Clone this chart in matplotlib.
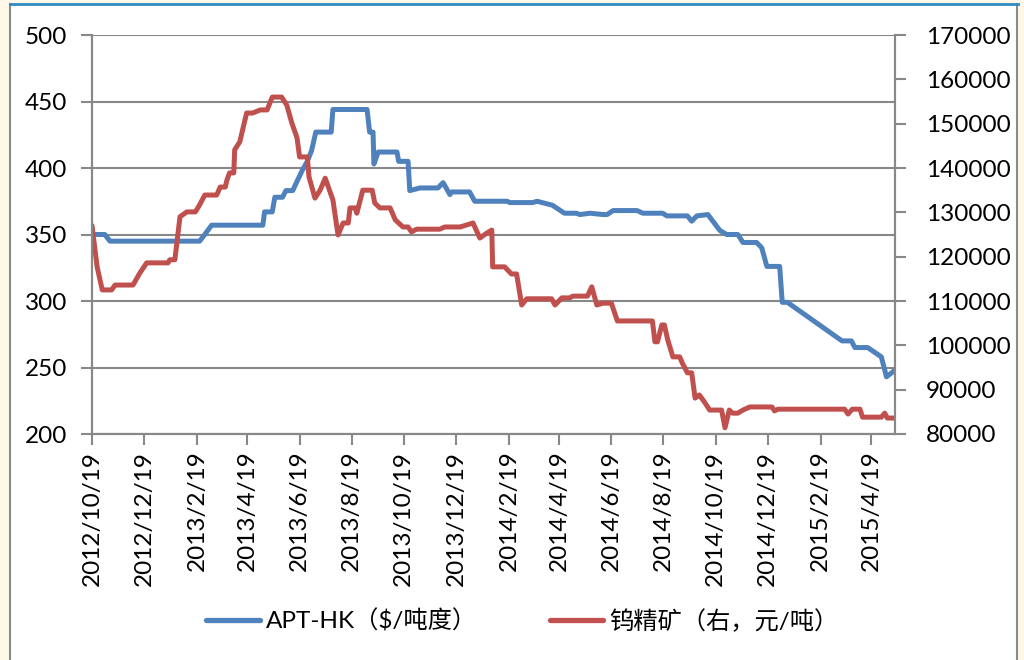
import pandas as pd
import matplotlib
matplotlib.use("Agg")
import matplotlib.pyplot as plt
from matplotlib.patches import Rectangle
from matplotlib.lines import Line2D

plt.rcParams['font.family'] = ['Lato', 'Noto Sans CJK SC', 'DejaVu Sans']

# APT-HK price ($/ton-degree), left axis
apt_dates = ["2012-10-19", "2012-11-03", "2012-11-09", "2013-02-22", "2013-02-28", "2013-03-08",
             "2013-05-07", "2013-05-09", "2013-05-18", "2013-05-21", "2013-05-30", "2013-06-03",
             "2013-06-11", "2013-06-16", "2013-06-22", "2013-06-28", "2013-07-03", "2013-07-08",
             "2013-07-26", "2013-07-28", "2013-09-06", "2013-09-09", "2013-09-13", "2013-09-14",
             "2013-09-19", "2013-10-11", "2013-10-13", "2013-10-24", "2013-10-26", "2013-11-07",
             "2013-11-28", "2013-12-04", "2013-12-12", "2013-12-14", "2014-01-04", "2014-01-10",
             "2014-02-17", "2014-02-20", "2014-03-19", "2014-03-24", "2014-04-11", "2014-04-25",
             "2014-05-09", "2014-05-13", "2014-05-25", "2014-06-09", "2014-06-14", "2014-06-21",
             "2014-07-19", "2014-07-26", "2014-08-18", "2014-08-23", "2014-09-16", "2014-09-21",
             "2014-09-27", "2014-10-10", "2014-10-24", "2014-11-01", "2014-11-14", "2014-11-20",
             "2014-12-06", "2014-12-12", "2014-12-18", "2015-01-02", "2015-01-05", "2015-01-11",
             "2015-03-16", "2015-03-27", "2015-03-31", "2015-04-15", "2015-05-01", "2015-05-07",
             "2015-05-17"]
apt_values = [350, 350, 345, 345, 350, 357,
              357, 367, 367, 378, 378, 383,
              383, 390, 398, 405, 413, 427,
              427, 444, 444, 427, 427, 403,
              412, 412, 405, 405, 383, 385,
              385, 389, 380, 382, 382, 375,
              375, 374, 374, 375, 372, 366,
              366, 365, 366, 365, 365, 368,
              368, 366, 366, 364, 364, 360,
              364, 365, 353, 350, 350, 344,
              344, 340, 326, 326, 299, 299,
              270, 270, 265, 265, 258, 243,
              248]

# tungsten concentrate (right axis, yuan/ton)
ore_dates = ["2012-10-19", "2012-10-25", "2012-10-31", "2012-11-11", "2012-11-15", "2012-12-06",
             "2012-12-14", "2012-12-22", "2013-01-16", "2013-01-18", "2013-01-24", "2013-01-30",
             "2013-02-07", "2013-02-17", "2013-02-22", "2013-02-28", "2013-03-14", "2013-03-18",
             "2013-03-24", "2013-03-26", "2013-03-29", "2013-04-03", "2013-04-04", "2013-04-10",
             "2013-04-18", "2013-04-25", "2013-05-04", "2013-05-12", "2013-05-18", "2013-05-29",
             "2013-06-04", "2013-06-10", "2013-06-16", "2013-06-19", "2013-06-28", "2013-06-30",
             "2013-07-07", "2013-07-13", "2013-07-19", "2013-07-28", "2013-08-03", "2013-08-09",
             "2013-08-15", "2013-08-17", "2013-08-23", "2013-08-25", "2013-09-01", "2013-09-12",
             "2013-09-15", "2013-09-21", "2013-10-03", "2013-10-09", "2013-10-18", "2013-10-24",
             "2013-10-28", "2013-11-03", "2013-11-30", "2013-12-06", "2013-12-24", "2014-01-08",
             "2014-01-16", "2014-01-24", "2014-01-30", "2014-01-31", "2014-02-14", "2014-02-22",
             "2014-02-28", "2014-03-06", "2014-03-12", "2014-04-10", "2014-04-14", "2014-04-22",
             "2014-05-01", "2014-05-05", "2014-05-22", "2014-05-27", "2014-06-02", "2014-06-09",
             "2014-06-19", "2014-06-26", "2014-08-06", "2014-08-09", "2014-08-12", "2014-08-17",
             "2014-08-20", "2014-08-24", "2014-08-30", "2014-09-07", "2014-09-10", "2014-09-16",
             "2014-09-21", "2014-09-25", "2014-09-30", "2014-10-06", "2014-10-12", "2014-10-26",
             "2014-10-30", "2014-11-04", "2014-11-08", "2014-11-14", "2014-11-20", "2014-11-28",
             "2014-12-24", "2014-12-27", "2014-12-31", "2015-03-19", "2015-03-23", "2015-03-28",
             "2015-04-06", "2015-04-09", "2015-05-01", "2015-05-05", "2015-05-08", "2015-05-17"]
ore_values = [127000, 117700, 112500, 112500, 113600, 113600,
              116300, 118600, 118600, 119300, 119300, 129000,
              130100, 130100, 131700, 133900, 133900, 135700,
              135700, 137300, 138900, 138900, 144100, 145900,
              152400, 152400, 153100, 153100, 156000, 156000,
              154200, 150100, 146800, 142500, 142500, 138000,
              133200, 135000, 137700, 132800, 124900, 127600,
              127600, 131000, 131000, 129800, 135000, 135000,
              132100, 131000, 131000, 128300, 126700, 126700,
              125600, 126200, 126200, 126700, 126700, 127600,
              124200, 125300, 126000, 117700, 117700, 116100,
              116100, 109100, 110500, 110500, 109100, 110700,
              110700, 111100, 111100, 113200, 109100, 109500,
              109500, 105500, 105500, 100800, 100800, 104600,
              104600, 101200, 97400, 97400, 96000, 93800,
              93800, 88100, 88800, 87200, 85400, 85400,
              81400, 85400, 84700, 84700, 85400, 86100,
              86100, 85200, 85600, 85600, 84500, 85600,
              85600, 83800, 83800, 84700, 83600, 83600]

tick_dates = ["2012-10-19", "2012-12-19", "2013-02-19", "2013-04-19", "2013-06-19", "2013-08-19",
              "2013-10-19", "2013-12-19", "2014-02-19", "2014-04-19", "2014-06-19", "2014-08-19",
              "2014-10-19", "2014-12-19", "2015-02-19", "2015-04-19"]
left_ticks = [200, 250, 300, 350, 400, 450, 500]
right_ticks = [80000, 90000, 100000, 110000, 120000, 130000, 140000, 150000, 160000, 170000]

blue = "#4F81BD"
red = "#C0504D"
grey = "#888888"

fig = plt.figure(figsize=(10.24, 6.6), dpi=100)
fig.patch.set_facecolor("#FFF8E8")
# white panel with grey sides and a blue top edge
fig.patches.append(Rectangle((10 / 1024, 0), 1007 / 1024, 1 - 4 / 660, transform=fig.transFigure,
                             facecolor="white", edgecolor="none", zorder=-10))
fig.lines.append(Line2D([10 / 1024, 10 / 1024], [0, 1 - 4 / 660], transform=fig.transFigure, color="#8a8a8a", lw=1.5))
fig.lines.append(Line2D([1017 / 1024, 1017 / 1024], [0, 1 - 4 / 660], transform=fig.transFigure, color="#8a8a8a", lw=1.5))
fig.lines.append(Line2D([10 / 1024, 1018 / 1024], [1 - 4 / 660, 1 - 4 / 660], transform=fig.transFigure, color="#2E8BC0", lw=2))

ax = fig.add_axes([92 / 1024, 1 - 434 / 660, (895 - 92) / 1024, (434 - 35) / 660])
ax.set_facecolor("none")
ax2 = ax.twinx()

apt_x = pd.to_datetime(apt_dates)
ore_x = pd.to_datetime(ore_dates)
ax.plot(apt_x, apt_values, color=blue, lw=3.6, solid_joinstyle="round", solid_capstyle="round")
ax2.plot(ore_x, ore_values, color=red, lw=3.6, solid_joinstyle="round", solid_capstyle="round")

ax.set_xlim(pd.Timestamp("2012-10-19"), pd.Timestamp("2015-05-17"))
ax.set_ylim(200, 500)
ax2.set_ylim(80000, 170000)

ax.set_yticks(left_ticks)
ax2.set_yticks(right_ticks)
ticks = pd.to_datetime(tick_dates)
ax.set_xticks(ticks)
ax.set_xticklabels([f"{d.year}/{d.month}/{d.day}" for d in ticks], rotation=90)

ax.grid(axis="y", color=grey, lw=1.5)
ax.set_axisbelow(True)

for a in (ax, ax2):
    for s in a.spines.values():
        s.set_color(grey)
        s.set_linewidth(1.5)
    a.spines["top"].set_visible(False)
    a.tick_params(colors=grey, labelcolor="black", labelsize=17.5, length=8, width=1.5)
ax.tick_params(axis="y", pad=10)
ax.tick_params(axis="x", pad=4)
ax2.tick_params(axis="y", pad=14)

handles = [Line2D([], [], color=blue, lw=3.8, solid_capstyle="round"),
           Line2D([], [], color=red, lw=3.8, solid_capstyle="round")]
labels = ["APT-HK（$/吨度）", "钨精矿（右，元/吨）"]
fig.legend(handles, labels, loc="center", bbox_to_anchor=(0.51, 1 - 621 / 660), ncol=2,
           frameon=False, fontsize=17.5, handlelength=2.2, handletextpad=0.25, columnspacing=3.0)

fig.savefig("out.png", dpi=100)
